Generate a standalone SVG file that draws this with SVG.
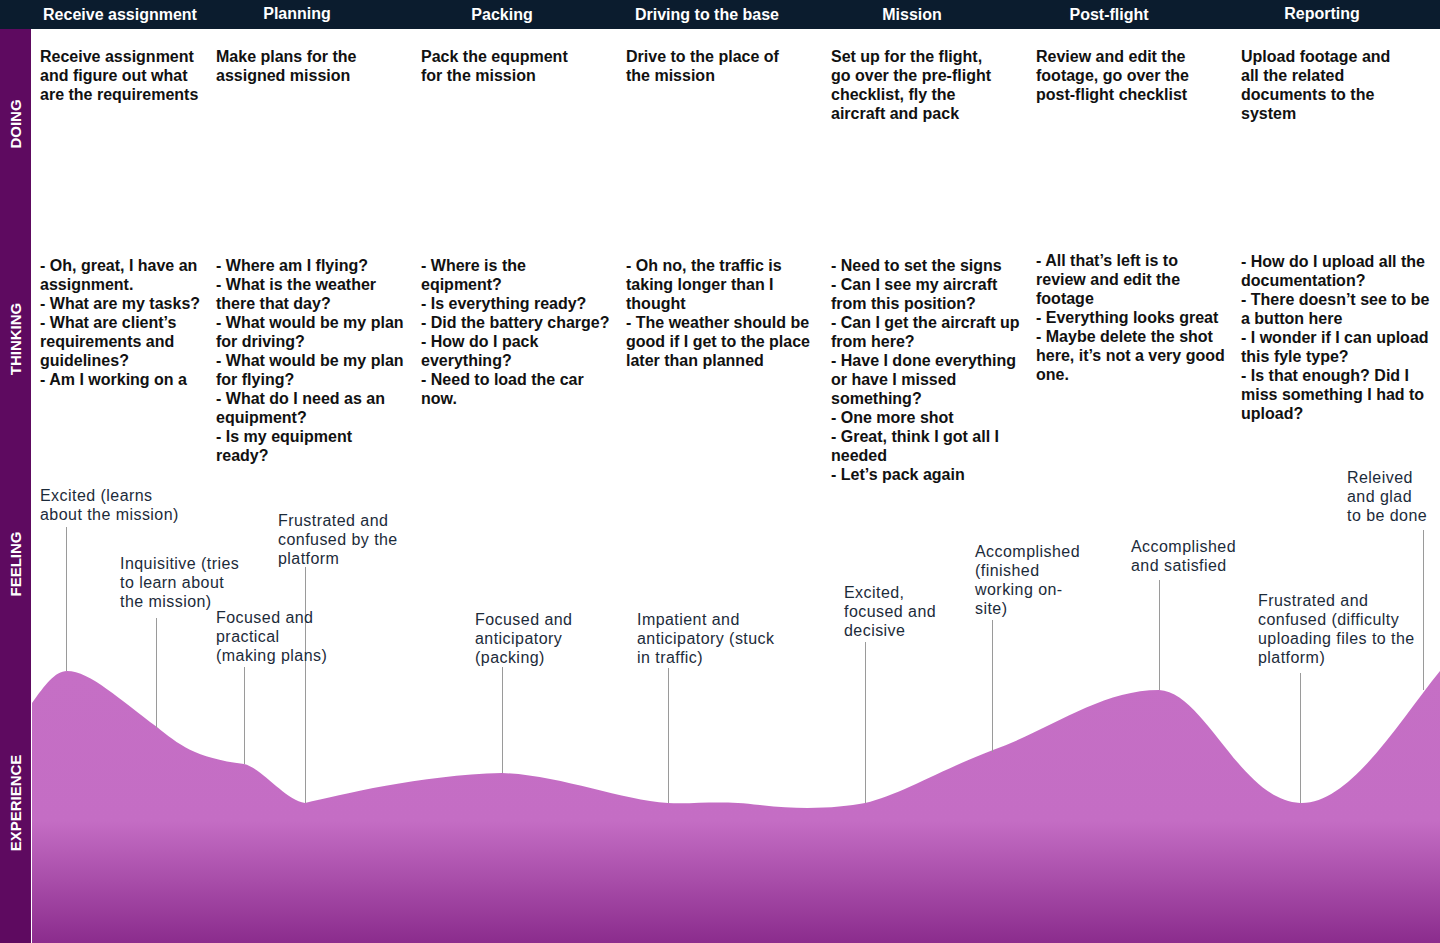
<svg xmlns="http://www.w3.org/2000/svg" width="1440" height="943" viewBox="0 0 1440 943">
<defs>
<style>
.hd{font-family:"Liberation Sans",Arial,sans-serif;font-size:16px;font-weight:bold;fill:#ffffff;text-anchor:middle}
.side{font-family:"Liberation Sans",Arial,sans-serif;font-size:15px;font-weight:bold;fill:#ffffff;text-anchor:middle}
.b{font-family:"Liberation Sans",Arial,sans-serif;font-size:16px;font-weight:bold;fill:#111111}
.f{font-family:"Liberation Sans",Arial,sans-serif;font-size:16px;letter-spacing:0.45px;fill:#1c2b3a}
.stem{stroke:#9a9a9a;stroke-width:1;fill:none}
</style>
<linearGradient id="exp" gradientUnits="userSpaceOnUse" x1="0" y1="671" x2="0" y2="943">
<stop offset="0" stop-color="#c56fc5"/>
<stop offset="0.55" stop-color="#c46dc4"/>
<stop offset="1" stop-color="#8b2c8d"/>
</linearGradient>
</defs>
<rect x="0" y="0" width="1440" height="943" fill="#ffffff"/>
<g id="header">
<rect x="0" y="0" width="1440" height="29" fill="#0b1c2e"/>
<text class="hd" x="120" y="20">Receive assignment</text>
<text class="hd" x="297" y="19">Planning</text>
<text class="hd" x="502" y="20">Packing</text>
<text class="hd" x="707" y="20">Driving to the base</text>
<text class="hd" x="912" y="20">Mission</text>
<text class="hd" x="1109" y="20">Post-flight</text>
<text class="hd" x="1322" y="19">Reporting</text>
</g>
<g id="sidebar">
<rect x="0" y="29" width="31" height="914" fill="#5e0a60"/>
<text class="side" transform="translate(21,124) rotate(-90)">DOING</text>
<text class="side" transform="translate(21,339) rotate(-90)">THINKING</text>
<text class="side" transform="translate(21,564) rotate(-90)">FEELING</text>
<text class="side" transform="translate(21,803) rotate(-90)">EXPERIENCE</text>
</g>
<g id="experience-curve">
<path d="M32,703 C45,685 55,671 67,671 C90,671 120,700 157,727 C178,744 195,758 244,764 C262,768 285,800 305,803 C340,795 420,775 502,773 C560,775 620,800 668,803 C700,804 720,800 760,805 C800,810 840,808 865,803 C900,795 940,770 993,750 C1050,730 1100,690 1159,690 C1205,692 1240,800 1300,803 C1350,805 1400,720 1440,671 L1440,943 L32,943 Z" fill="url(#exp)"/>
</g>
<g id="connectors">
<line class="stem" x1="66.5" y1="527" x2="66.5" y2="671"/>
<line class="stem" x1="156.5" y1="618" x2="156.5" y2="728"/>
<line class="stem" x1="244.5" y1="667" x2="244.5" y2="764"/>
<line class="stem" x1="305.5" y1="567" x2="305.5" y2="803"/>
<line class="stem" x1="502.5" y1="667" x2="502.5" y2="773"/>
<line class="stem" x1="668.5" y1="668" x2="668.5" y2="803"/>
<line class="stem" x1="865.5" y1="642" x2="865.5" y2="803"/>
<line class="stem" x1="992.5" y1="620" x2="992.5" y2="752"/>
<line class="stem" x1="1159.5" y1="580" x2="1159.5" y2="690"/>
<line class="stem" x1="1300.5" y1="673" x2="1300.5" y2="803"/>
<line class="stem" x1="1423.5" y1="530" x2="1423.5" y2="690"/>
</g>
<g id="doing">
<text class="b" x="40" y="62">Receive assignment<tspan x="40" dy="19">and figure out what</tspan><tspan x="40" dy="19">are the requirements</tspan></text>
<text class="b" x="216" y="62">Make plans for the<tspan x="216" dy="19">assigned mission</tspan></text>
<text class="b" x="421" y="62">Pack the equpment<tspan x="421" dy="19">for the mission</tspan></text>
<text class="b" x="626" y="62">Drive to the place of<tspan x="626" dy="19">the mission</tspan></text>
<text class="b" x="831" y="62">Set up for the flight,<tspan x="831" dy="19">go over the pre-flight</tspan><tspan x="831" dy="19">checklist, fly the</tspan><tspan x="831" dy="19">aircraft and pack</tspan></text>
<text class="b" x="1036" y="62">Review and edit the<tspan x="1036" dy="19">footage, go over the</tspan><tspan x="1036" dy="19">post-flight checklist</tspan></text>
<text class="b" x="1241" y="62">Upload footage and<tspan x="1241" dy="19">all the related</tspan><tspan x="1241" dy="19">documents to the</tspan><tspan x="1241" dy="19">system</tspan></text>
</g>
<g id="thinking">
<text class="b" x="40" y="271">- Oh, great, I have an<tspan x="40" dy="19">assignment.</tspan><tspan x="40" dy="19">- What are my tasks?</tspan><tspan x="40" dy="19">- What are client’s</tspan><tspan x="40" dy="19">requirements and</tspan><tspan x="40" dy="19">guidelines?</tspan><tspan x="40" dy="19">- Am I working on a</tspan></text>
<text class="b" x="216" y="271">- Where am I flying?<tspan x="216" dy="19">- What is the weather</tspan><tspan x="216" dy="19">there that day?</tspan><tspan x="216" dy="19">- What would be my plan</tspan><tspan x="216" dy="19">for driving?</tspan><tspan x="216" dy="19">- What would be my plan</tspan><tspan x="216" dy="19">for flying?</tspan><tspan x="216" dy="19">- What do I need as an</tspan><tspan x="216" dy="19">equipment?</tspan><tspan x="216" dy="19">- Is my equipment</tspan><tspan x="216" dy="19">ready?</tspan></text>
<text class="b" x="421" y="271">- Where is the<tspan x="421" dy="19">eqipment?</tspan><tspan x="421" dy="19">- Is everything ready?</tspan><tspan x="421" dy="19">- Did the battery charge?</tspan><tspan x="421" dy="19">- How do I pack</tspan><tspan x="421" dy="19">everything?</tspan><tspan x="421" dy="19">- Need to load the car</tspan><tspan x="421" dy="19">now.</tspan></text>
<text class="b" x="626" y="271">- Oh no, the traffic is<tspan x="626" dy="19">taking longer than I</tspan><tspan x="626" dy="19">thought</tspan><tspan x="626" dy="19">- The weather should be</tspan><tspan x="626" dy="19">good if I get to the place</tspan><tspan x="626" dy="19">later than planned</tspan></text>
<text class="b" x="831" y="271">- Need to set the signs<tspan x="831" dy="19">- Can I see my aircraft</tspan><tspan x="831" dy="19">from this position?</tspan><tspan x="831" dy="19">- Can I get the aircraft up</tspan><tspan x="831" dy="19">from here?</tspan><tspan x="831" dy="19">- Have I done everything</tspan><tspan x="831" dy="19">or have I missed</tspan><tspan x="831" dy="19">something?</tspan><tspan x="831" dy="19">- One more shot</tspan><tspan x="831" dy="19">- Great, think I got all I</tspan><tspan x="831" dy="19">needed</tspan><tspan x="831" dy="19">- Let’s pack again</tspan></text>
<text class="b" x="1036" y="266">- All that’s left is to<tspan x="1036" dy="19">review and edit the</tspan><tspan x="1036" dy="19">footage</tspan><tspan x="1036" dy="19">- Everything looks great</tspan><tspan x="1036" dy="19">- Maybe delete the shot</tspan><tspan x="1036" dy="19">here, it’s not a very good</tspan><tspan x="1036" dy="19">one.</tspan></text>
<text class="b" x="1241" y="267">- How do I upload all the<tspan x="1241" dy="19">documentation?</tspan><tspan x="1241" dy="19">- There doesn’t see to be</tspan><tspan x="1241" dy="19">a button here</tspan><tspan x="1241" dy="19">- I wonder if I can upload</tspan><tspan x="1241" dy="19">this fyle type?</tspan><tspan x="1241" dy="19">- Is that enough? Did I</tspan><tspan x="1241" dy="19">miss something I had to</tspan><tspan x="1241" dy="19">upload?</tspan></text>
</g>
<g id="feelings">
<text class="f" x="40" y="501">Excited (learns<tspan x="40" dy="19">about the mission)</tspan></text>
<text class="f" x="120" y="569">Inquisitive (tries<tspan x="120" dy="19">to learn about</tspan><tspan x="120" dy="19">the mission)</tspan></text>
<text class="f" x="278" y="526">Frustrated and<tspan x="278" dy="19">confused by the</tspan><tspan x="278" dy="19">platform</tspan></text>
<text class="f" x="216" y="623">Focused and<tspan x="216" dy="19">practical</tspan><tspan x="216" dy="19">(making plans)</tspan></text>
<text class="f" x="475" y="625">Focused and<tspan x="475" dy="19">anticipatory</tspan><tspan x="475" dy="19">(packing)</tspan></text>
<text class="f" x="637" y="625">Impatient and<tspan x="637" dy="19">anticipatory (stuck</tspan><tspan x="637" dy="19">in traffic)</tspan></text>
<text class="f" x="844" y="598">Excited,<tspan x="844" dy="19">focused and</tspan><tspan x="844" dy="19">decisive</tspan></text>
<text class="f" x="975" y="557">Accomplished<tspan x="975" dy="19">(finished</tspan><tspan x="975" dy="19">working on-</tspan><tspan x="975" dy="19">site)</tspan></text>
<text class="f" x="1131" y="552">Accomplished<tspan x="1131" dy="19">and satisfied</tspan></text>
<text class="f" x="1258" y="606">Frustrated and<tspan x="1258" dy="19">confused (difficulty</tspan><tspan x="1258" dy="19">uploading files to the</tspan><tspan x="1258" dy="19">platform)</tspan></text>
<text class="f" x="1347" y="483">Releived<tspan x="1347" dy="19">and glad</tspan><tspan x="1347" dy="19">to be done</tspan></text>
</g>
</svg>
